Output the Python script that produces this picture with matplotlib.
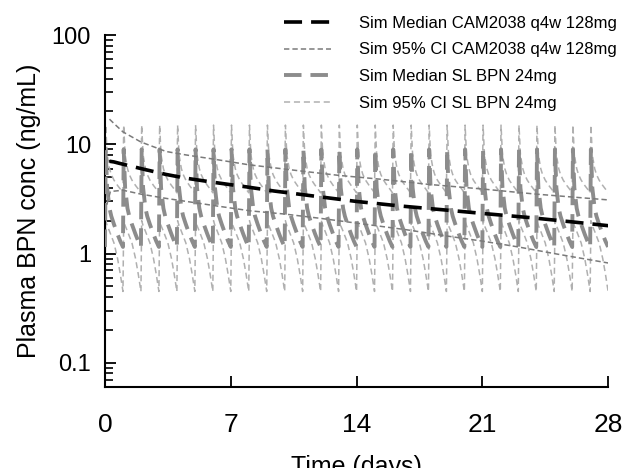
import numpy as np
import matplotlib
matplotlib.use("Agg")
import matplotlib.pyplot as plt
from matplotlib.ticker import FixedLocator, NullFormatter

plt.rcParams['font.family'] = ['Liberation Sans', 'DejaVu Sans']

# CAM2038 q4w 128mg
cam_t = [0.25, 0.5, 0.8, 1.3, 2, 3.4, 4.5, 6, 8, 9.4, 12, 14, 16.4, 19, 21.4, 23.7, 26, 28]
cam_med = [7.0, 6.9, 6.7, 6.4, 6.0, 5.3, 4.9, 4.5, 4.05, 3.74, 3.3, 3.0, 2.73, 2.5, 2.3, 2.13, 1.95, 1.8]
cam_hi_t = [0.25, 0.5, 1, 2, 3.4, 4.5, 6.1, 8, 10.9, 13, 15.3, 18, 21, 24, 28]
cam_hi = [17.0, 15.5, 13.0, 10.5, 8.6, 8.0, 7.3, 6.5, 5.7, 5.2, 4.8, 4.3, 3.9, 3.5, 3.1]
cam_lo_t = [0.1, 0.3, 1, 2, 3.4, 6.4, 8.1, 10, 12, 14, 16.8, 19, 21, 23, 25, 28]
cam_lo = [2.8, 3.7, 3.8, 3.5, 3.2, 2.7, 2.46, 2.3, 2.1, 1.9, 1.65, 1.45, 1.3, 1.15, 1.0, 0.82]

# SL BPN 24mg, once daily: one dosing interval
dose_days = list(range(28))
sl_off = [0.0, 0.04, 0.12, 0.25, 0.35, 0.5, 0.7, 0.85, 0.999]
sl_med = [1.15, 9.0, 4.0, 2.6, 2.2, 1.85, 1.5, 1.3, 1.15]
sl_hi = [3.6, 15.0, 8.0, 6.0, 5.3, 4.7, 4.2, 3.9, 3.6]
sl_lo = [0.45, 2.0, 1.8, 1.6, 1.45, 1.25, 0.9, 0.65, 0.45]

y_major = [0.1, 1, 10, 100]
y_labels = ['0.1', '1', '10', '100']
x_major = [0, 7, 14, 21, 28]


def tile(offsets, values):
    t = np.concatenate([d + np.array(offsets) for d in dose_days])
    c = np.tile(values, len(dose_days))
    return t, c


fig, ax = plt.subplots(figsize=(6.25, 4.68), dpi=100)
fig.subplots_adjust(left=0.168, right=0.973, bottom=0.173, top=0.925)

t, c = tile(sl_off, sl_hi)
l_slci, = ax.plot(t, c, color='#b0b0b0', lw=1.1, dashes=(4, 2.5), label='Sim 95% CI SL BPN 24mg', zorder=2)
t, c = tile(sl_off, sl_lo)
ax.plot(t, c, color='#b0b0b0', lw=1.1, dashes=(4, 2.5), zorder=2)
t, c = tile(sl_off, sl_med)
l_slmed, = ax.plot(t, c, color='#8c8c8c', lw=2.8, dashes=(4.5, 2.3), label='Sim Median SL BPN 24mg', zorder=3)

l_camhi, = ax.plot(cam_hi_t, cam_hi, color='#7a7a7a', lw=1.1, dashes=(3.5, 2),
                   label='Sim 95% CI CAM2038 q4w 128mg', zorder=4)
ax.plot(cam_lo_t, cam_lo, color='#7a7a7a', lw=1.1, dashes=(3.5, 2), zorder=4)
l_cammed, = ax.plot(cam_t, cam_med, color='black', lw=2.6, dashes=(5, 2.5),
                    label='Sim Median CAM2038 q4w 128mg', zorder=5)

ax.set_yscale('log')
ax.set_ylim(0.06, 100)
ax.set_xlim(0, 28)
ax.set_xticks(x_major)
ax.set_yticks(y_major)
ax.set_yticklabels(y_labels)
y_minor = [m * 10.0 ** e for e in range(-2, 2) for m in range(2, 10)]
y_minor = [v for v in y_minor if 0.06 <= v <= 100]
ax.yaxis.set_minor_locator(FixedLocator(y_minor))
ax.yaxis.set_minor_formatter(NullFormatter())
ax.xaxis.set_minor_locator(FixedLocator([]))
ax.tick_params(axis='both', which='major', direction='in', length=8, width=1.3)
ax.tick_params(axis='y', which='major', pad=10, labelsize=17)
ax.tick_params(axis='x', which='major', pad=19, labelsize=19)
ax.yaxis.set_tick_params(which='minor', direction='in', length=6, width=1.2,
                         color='black', left=True)
ax.spines['top'].set_visible(False)
ax.spines['right'].set_visible(False)
ax.spines['left'].set_linewidth(1.5)
ax.spines['bottom'].set_linewidth(1.5)

ax.set_ylabel('Plasma BPN conc (ng/mL)', fontsize=18, labelpad=8)
ax.set_xlabel('Time (days)', fontsize=18, labelpad=13)

handles = [l_cammed, l_camhi, l_slmed, l_slci]
ax.legend(handles, [h.get_label() for h in handles], loc='upper right',
          bbox_to_anchor=(1.018, 1.055), frameon=False, fontsize=12,
          borderpad=0, borderaxespad=0, handlelength=2.8, handletextpad=1.7,
          labelspacing=0.7)

fig.savefig('out.png', dpi=100)
